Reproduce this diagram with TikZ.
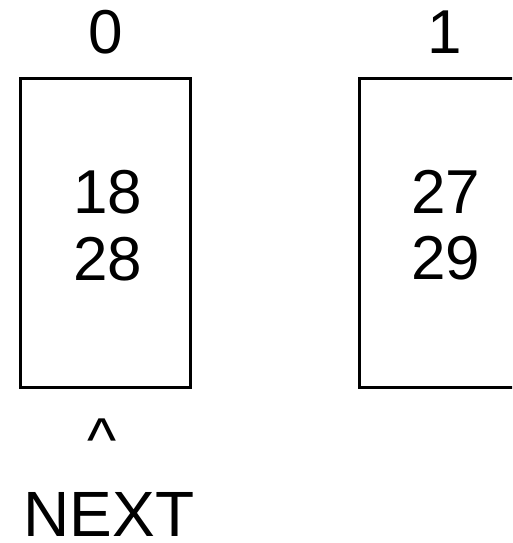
\documentclass[tikz,border=0pt]{standalone}
\usepackage{fontspec}
\setmainfont{Liberation Sans}
\tikzset{cell/.style={draw,line width=3pt,minimum width=170pt,minimum height=309.5pt,inner sep=0pt},
digit/.style={anchor=base,inner sep=0pt,font=\fontsize{62}{67}\selectfont},
tag/.style={anchor=base,inner sep=0pt,font=\fontsize{64}{70}\selectfont}}
\begin{document}
\begin{tikzpicture}[x=1pt,y=-1pt]
\useasboundingbox(0,0)rectangle(512,543);
\clip(0,0)rectangle(512,543);
\node[cell](box0)at(105.6,233.2){};
\node[cell](box1)at(444.5,233.2){};
\node[digit](idx0)at(105.6,53){0};\node[digit](idx1)at(444.5,53){1};
\node[digit](a0)at(108,213){18};\node[digit](b0)at(108,280){28};
\node[digit](a1)at(446,213){27};\node[digit](b1)at(446,279){29};
\node[digit](ptr)at(102,461){\textasciicircum};
\node[tag](next)at(109,536){NEXT};
\end{tikzpicture}
\end{document}
